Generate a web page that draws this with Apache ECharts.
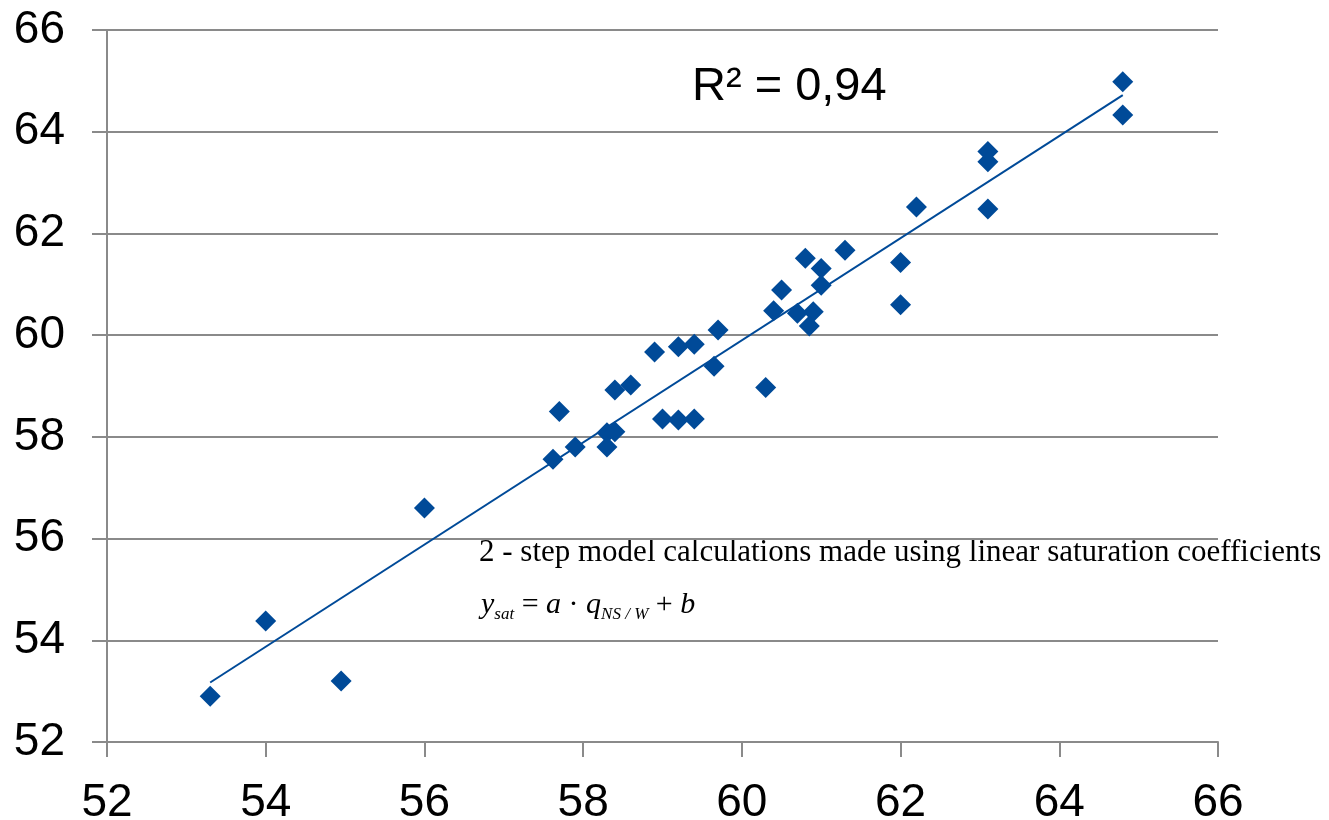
<!DOCTYPE html>
<html><head><meta charset="utf-8">
<script src="https://cdn.jsdelivr.net/npm/echarts@6/dist/echarts.min.js"></script>
<style>html,body{margin:0;padding:0;background:#fff}#c{width:1329px;height:820px}</style>
</head><body><div id="c"></div>
<script>
const xValues = [53.3, 54.0, 54.95, 56.0, 57.62, 57.7, 57.9, 58.3, 58.3, 58.4, 58.4, 58.6, 58.9, 59.2, 59.4, 59.7, 59.65, 59.0, 59.2, 59.4, 60.3, 60.4, 60.5, 60.7, 60.9, 60.85, 60.8, 61.0, 61.0, 61.3, 62.0, 62.0, 62.2, 63.1, 63.1, 63.1, 64.8, 64.8];
const yValues = [52.9, 54.38, 53.2, 56.6, 57.56, 58.5, 57.8, 58.08, 57.8, 58.1, 58.92, 59.02, 59.67, 59.77, 59.82, 60.1, 59.39, 58.35, 58.33, 58.35, 58.97, 60.48, 60.89, 60.43, 60.46, 60.18, 61.51, 61.31, 60.98, 61.67, 61.43, 60.6, 62.52, 63.61, 63.41, 62.48, 64.98, 64.33];
const axisTicks = [52, 54, 56, 58, 60, 62, 64, 66];
const rSquaredLabel = 'R² = 0,94';
const noteLine1 = '2 - step model calculations made using linear saturation coefficients';

const points = xValues.map((x, i) => [x, yValues[i]]);
// least-squares trendline from the data
const n = xValues.length;
const mx = xValues.reduce((a, b) => a + b, 0) / n;
const my = yValues.reduce((a, b) => a + b, 0) / n;
let sxy = 0, sxx = 0;
for (let i = 0; i < n; i++) { sxy += (xValues[i] - mx) * (yValues[i] - my); sxx += (xValues[i] - mx) ** 2; }
const slope = sxy / sxx, intercept = my - slope * mx;
const xMin = Math.min(...xValues), xMax = Math.max(...xValues);
const trend = [[xMin, slope * xMin + intercept], [xMax, slope * xMax + intercept]];

const blue = '#004A98';
const gray = '#8a8a8a';
const chart = echarts.init(document.getElementById('c'));
chart.setOption({
  animation: false,
  backgroundColor: '#fff',
  grid: { left: 107, right: 111, top: 30, bottom: 78, containLabel: false, outerBoundsMode: 'none' },
  xAxis: {
    type: 'value', min: axisTicks[0], max: axisTicks[axisTicks.length - 1], interval: 2,
    axisLine: { show: true, lineStyle: { color: gray, width: 2 } },
    axisTick: { show: true, length: 15, lineStyle: { color: gray, width: 2 } },
    splitLine: { show: false },
    axisLabel: { fontFamily: 'Liberation Sans', fontSize: 46, color: '#000', margin: 38 }
  },
  yAxis: {
    type: 'value', min: axisTicks[0], max: axisTicks[axisTicks.length - 1], interval: 2,
    axisLine: { show: true, lineStyle: { color: gray, width: 2 } },
    axisTick: { show: true, length: 15, lineStyle: { color: gray, width: 2 } },
    splitLine: { show: true, lineStyle: { color: gray, width: 2 } },
    axisLabel: { fontFamily: 'Liberation Sans', fontSize: 46, color: '#000', margin: 42 }
  },
  series: [
    {
      type: 'line', data: trend, showSymbol: false, symbol: 'none',
      lineStyle: { color: blue, width: 2 }, z: 2
    },
    {
      type: 'scatter', data: points, symbol: 'diamond', symbolSize: 21,
      itemStyle: { color: blue, opacity: 1 }, z: 3
    }
  ],
  graphic: [
    { type: 'text', left: 692, top: 64, style: { text: rSquaredLabel, font: '47px "Liberation Sans"', fill: '#000' } },
    { type: 'text', left: 479, top: 537, style: { text: noteLine1, font: '31px "Liberation Serif"', fill: '#000' } },
    { type: 'text', left: 481, top: 590, style: {
        text: '{m|y}{s|sat}{n| = }{m|a}{n| · }{m|q}{s|NS / W}{n| + }{m|b}',
        fill: '#000',
        rich: {
          m: { fontFamily: 'Liberation Serif', fontStyle: 'italic', fontSize: 30, lineHeight: 36, verticalAlign: 'middle' },
          n: { fontFamily: 'Liberation Serif', fontSize: 30, lineHeight: 36, verticalAlign: 'middle' },
          s: { fontFamily: 'Liberation Serif', fontStyle: 'italic', fontSize: 17, lineHeight: 17, verticalAlign: 'bottom' }
        }
    } }
  ]
});
</script></body></html>
